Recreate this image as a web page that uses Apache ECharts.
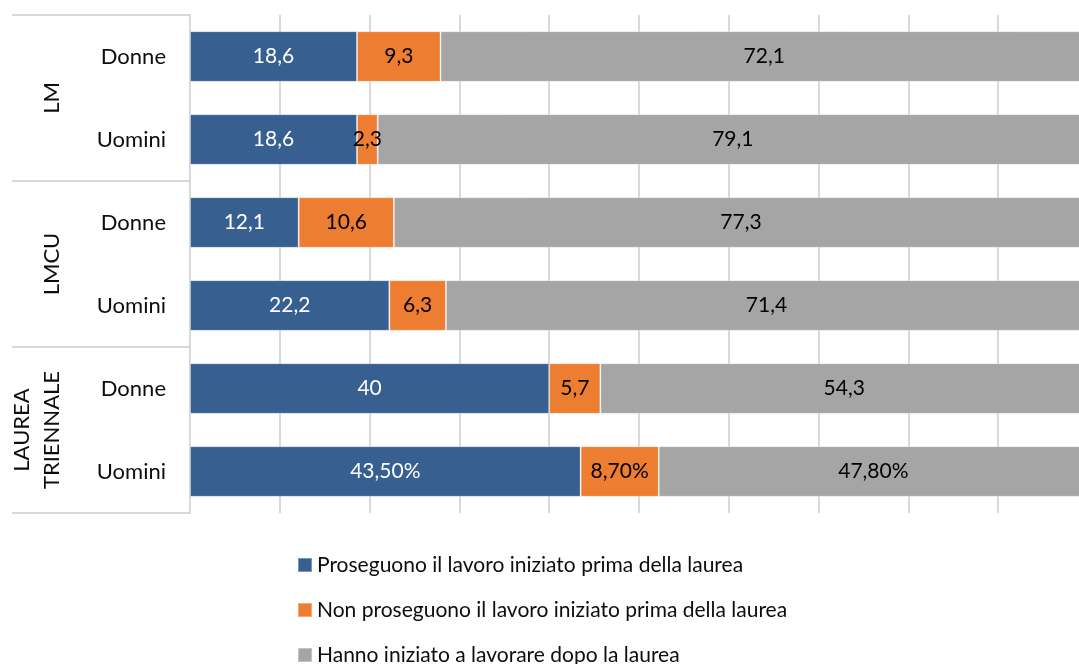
<!DOCTYPE html>
<html lang="it">
<head>
    <meta charset="UTF-8">
    <title>Lavoro dopo la laurea</title>
    <style>
        html,body{padding: 0;margin: 0;background: #fff;}
        #chart{width: 1079px;height: 664px;}
    </style>
    <script src="https://cdn.jsdelivr.net/npm/echarts@6/dist/echarts.min.js"></script>
</head>
<body>
<div id="chart"></div>
<script>
    // dati (valori in percentuale)
    var categories = ['Donne', 'Uomini', 'Donne', 'Uomini', 'Donne', 'Uomini'];
    var groups = ['LM', 'LMCU', 'LAUREA\nTRIENNALE'];
    var seriesNames = [
        'Proseguono il lavoro iniziato prima della laurea',
        'Non proseguono il lavoro iniziato prima della laurea',
        'Hanno iniziato a lavorare dopo la laurea'
    ];
    var proseguono = [18.6, 18.6, 12.1, 22.2, 40, 43.5];
    var nonProseguono = [9.3, 2.3, 10.6, 6.3, 5.7, 8.7];
    var dopoLaurea = [72.1, 79.1, 77.3, 71.4, 54.3, 47.8];
    // l'ultima riga in Excel è formattata come percentuale
    var percentRows = [false, false, false, false, false, true];

    var colors = ['#375f8f', '#ed7d31', '#a5a5a5'];
    var labelColors = ['#ffffff', '#000000', '#000000'];
    var font = 'Lato';

    function fmt(p){
        if(percentRows[p.dataIndex]){
            return p.value.toFixed(2).replace('.', ',') + '%';
        }
        return String(p.value).replace('.', ',');
    }

    function makeSeries(name, data, i){
        return {
            name: name,
            type: 'bar',
            stack: 'tot',
            data: data,
            barCategoryGap: '39%',
            itemStyle: {color: colors[i], borderColor: 'rgba(255,255,255,0.35)', borderWidth: 1},
            label: {
                show: true,
                position: 'inside',
                color: labelColors[i],
                fontFamily: font,
                fontSize: 21,
                formatter: fmt
            }
        };
    }

    var myChart = echarts.init(document.getElementById('chart'));
    var option = {
        animation: false,
        grid: {left: 190, right: -9, top: 15, bottom: 151, outerBoundsMode: 'none'},
        legend: {
            orient: 'vertical',
            left: 297,
            top: 553,
            height: 160,
            padding: 0,
            itemWidth: 14,
            itemHeight: 14,
            itemGap: 21,
            icon: 'rect',
            textStyle: {fontFamily: font, fontSize: 21, color: '#0d0d0d', lineHeight: 24},
            data: seriesNames
        },
        xAxis: {
            type: 'value',
            min: 0,
            max: 100,
            interval: 10,
            axisLabel: {show: false},
            axisTick: {show: false},
            axisLine: {show: false},
            splitLine: {lineStyle: {color: '#d9d9d9', width: 2}}
        },
        yAxis: [{
            type: 'category',
            inverse: true,
            data: categories,
            axisLine: {show: true, lineStyle: {color: '#d9d9d9', width: 2}},
            axisTick: {show: false},
            axisLabel: {margin: 24, fontFamily: font, fontSize: 22, color: '#0d0d0d'}
        }, {
            type: 'category',
            inverse: true,
            position: 'left',
            data: groups,
            axisLine: {show: false},
            axisTick: {show: true, length: 178, lineStyle: {color: '#d9d9d9', width: 2}},
            axisLabel: {
                rotate: 90,
                margin: 123,
                fontFamily: font,
                fontSize: 22,
                lineHeight: 30,
                color: '#0d0d0d'
            }
        }],
        series: [
            makeSeries(seriesNames[0], proseguono, 0),
            makeSeries(seriesNames[1], nonProseguono, 1),
            makeSeries(seriesNames[2], dopoLaurea, 2)
        ]
    };
    myChart.setOption(option);
</script>
</body>
</html>
